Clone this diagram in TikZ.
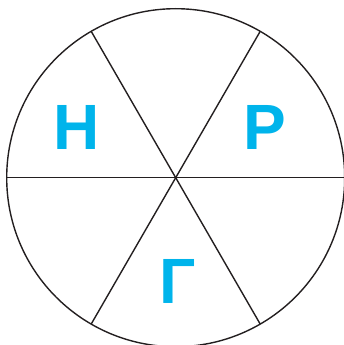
\documentclass[tikz,border=0pt]{standalone}
\usepackage{fontspec}
\usepackage{tikz}
\usetikzlibrary{positioning,calc}
\newfontfamily\wheelfont{Liberation Sans}
\definecolor{WheelCyan}{RGB}{0, 180, 235}
\definecolor{WheelDark}{RGB}{35, 31, 32}

\begin{document}
\begin{tikzpicture}[x=1pt, y=-1pt,
    sector/.style={draw=WheelDark, line width=1.4pt},
    letter/.style={text=WheelCyan, font=\wheelfont\bfseries\fontsize{64}{64}\selectfont, inner sep=0pt}]
      \useasboundingbox (0,0) rectangle (344,345);
      \coordinate (hub) at (175.7,177.7);
      \draw[sector] (hub) circle[radius=169pt];
      \foreach \ang in {0,60,120} {
        \draw[sector] ($(hub)+(\ang:169pt)$) -- ($(hub)+(\ang+180:169pt)$);
      }
      \node[letter] (n) at (77,127.5) {Н};
      \node[letter] (r) at (265,127.5) {Р};
      \node[letter] (g) at (178,281) {Г};
    \end{tikzpicture}
\end{document}
